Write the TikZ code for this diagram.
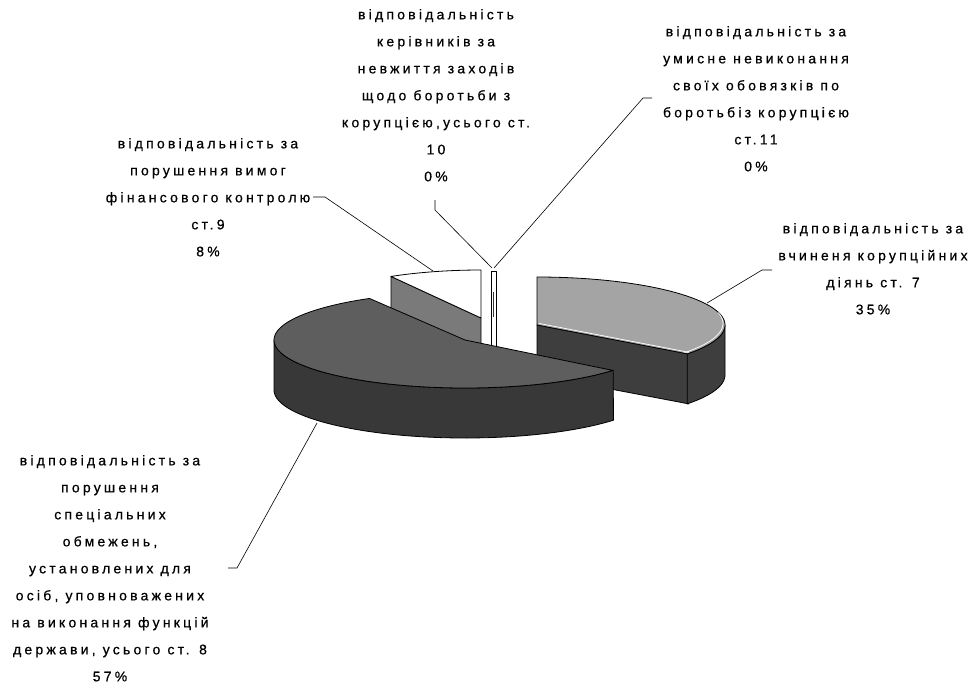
\documentclass[tikz,border=0pt]{standalone}
\usepackage{fontspec}
\usetikzlibrary{calc}
\newfontfamily\lblfont{Liberation Sans}[LetterSpace=23,FakeBold=0.6]
\definecolor{bigtop}{HTML}{5E5E5E}
\definecolor{bigside}{HTML}{383838}
\definecolor{lighttop}{HTML}{A4A4A4}
\definecolor{darkside}{HTML}{3E3E3E}
\definecolor{facegray}{HTML}{7A7A7A}
\begin{document}
\begin{tikzpicture}[x=1pt,y=-1pt,
  edge/.style={draw=black,line width=0.8pt,line join=round},
  leader/.style={draw=black,line width=0.6pt},
  lbl/.style={font=\lblfont\fontsize{14}{27}\selectfont,align=center,anchor=north,inner sep=0pt}]
\useasboundingbox (0,0) rectangle (976,686);

% ---- 8% slice (back, exploded) ----
\coordinate (c8) at (481,318);
\coordinate (p8) at (391,276.4);
\path[fill=facegray,edge] (p8) -- (c8) -- ++(0,50) -- ($(p8)+(0,50)$) -- cycle;
\path[fill=white,edge] (c8) -- plot[domain=0:1,samples=30] ({481+180*cos(240+30*\x)},{318+48*sin(240+30*\x)}) -- cycle;

% ---- 0% slices (thin bars) ----
\path[fill=white,edge] (491,271) rectangle (496,350);
\path[fill=black!80] (492.6,292) rectangle (494.4,317);

% ---- 35% slice (right, exploded) ----
\coordinate (c35) at (537,325);
\coordinate (f35) at ({537+190*cos(37)},{325+48*sin(37)});
\path[fill=darkside,edge] (c35) -- (f35) -- ++(0,50) -- ($(c35)+(0,50)$) -- cycle;
\path[fill=darkside,edge] plot[domain=0:1,samples=20] ({537+188*cos(37*\x)},{325+48*sin(37*\x)})
   -- plot[domain=0:1,samples=20] ({537+188*cos(37-37*\x)},{375+48*sin(37-37*\x)}) -- cycle;
\path[fill=lighttop,edge] (c35) -- plot[domain=0:1,samples=80] ({537+188*cos(270+127*\x)},{325+48*sin(270+127*\x)}) -- cycle;
\draw[white,line width=0.7pt] ($(c35)+(2,-1.6)$) -- ($(f35)+(0,-1.6)$)
   -- plot[domain=0:1,samples=20] ({537+186*cos(37-50*\x)},{323.4+48*sin(37-50*\x)});

% ---- 57% slice (front) ----
\coordinate (c57) at (465,340);
\path[fill=bigside,edge] plot[domain=0:1,samples=60] ({465+191*cos(180-141*\x)},{340+48*sin(180-141*\x)})
   -- plot[domain=0:1,samples=60] ({465+191*cos(39+141*\x)},{390+48*sin(39+141*\x)}) -- cycle;
\path[fill=bigtop,edge] (c57) -- plot[domain=0:1,samples=100] ({465+191*cos(240-201*\x)},{340+48*sin(240-201*\x)}) -- cycle;

% ---- labels ----
\node[lbl] (t10) at (436,9) {відповідальність\\керівників за\\невжиття заходів\\щодо боротьби з\\корупцією,усього ст.\\10\\0\%};
\node[lbl] (t11) at (756,26) {відповідальність за\\умисне невиконання\\своїх обовязків по\\боротьбіз корупцією\\ст.11\\0\%};
\node[lbl] (t9) at (208,138) {відповідальність за\\порушення вимог\\фінансового контролю\\ст.9\\8\%};
\node[lbl] (t7) at (873,223) {відповідальність за\\вчиненя корупційних\\діянь ст. 7\\35\%};
\node[lbl] (t8) at (110,455) {відповідальність за\\порушення\\спеціальних\\обмежень,\\установлених для\\осіб, уповноважених\\на виконання функцій\\держави, усього ст. 8\\57\%};

% ---- leader lines ----
\coordinate (a9) at (313,197);  \coordinate (b9) at (325,197);  \coordinate (e9) at (433,271);
\coordinate (a10) at (435,200); \coordinate (b10) at (435,210); \coordinate (e10) at (492,268);
\coordinate (a11) at (652,98);  \coordinate (b11) at (643,98);  \coordinate (e11) at (494,268);
\coordinate (a7) at (772,270);  \coordinate (b7) at (762,270);  \coordinate (e7) at (707,303);
\coordinate (a8) at (228,568);  \coordinate (b8) at (237,568);  \coordinate (e8) at (317,423);
\draw[leader] (a9) -- (b9) -- (e9);
\draw[leader] (a10) -- (b10) -- (e10);
\draw[leader] (a11) -- (b11) -- (e11);
\draw[leader] (a7) -- (b7) -- (e7);
\draw[leader] (a8) -- (b8) -- (e8);
\end{tikzpicture}
\end{document}
